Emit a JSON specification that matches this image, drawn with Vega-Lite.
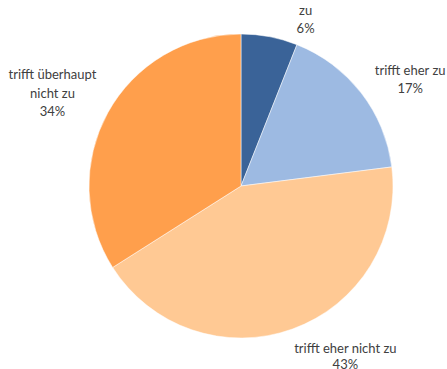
{
  "$schema": "https://vega.github.io/schema/vega-lite/v6.json",
  "width": 412,
  "height": 366,
  "autosize": {"type": "none"},
  "padding": {"left": 35, "top": 3, "right": 0, "bottom": 0},
  "background": "white",
  "view": {"stroke": null},
  "data": {
    "values": [
      {"order": 1, "cat": "trifft zu", "value": 6, "label": ["zu", "6%"]},
      {"order": 2, "cat": "trifft eher zu", "value": 17, "label": ["trifft eher zu", "17%"]},
      {"order": 3, "cat": "trifft eher nicht zu", "value": 43, "label": ["trifft eher nicht zu", "43%"]},
      {"order": 4, "cat": "trifft überhaupt nicht zu", "value": 34, "label": ["trifft überhaupt", "nicht zu", "34%"]}
    ]
  },
  "encoding": {
    "theta": {"field": "value", "type": "quantitative", "stack": true},
    "order": {"field": "order", "type": "quantitative"}
  },
  "layer": [
    {
      "mark": {"type": "arc", "outerRadius": 152, "stroke": "white", "strokeWidth": 0.5},
      "encoding": {
        "color": {
          "field": "cat",
          "type": "nominal",
          "scale": {
            "domain": ["trifft zu", "trifft eher zu", "trifft eher nicht zu", "trifft überhaupt nicht zu"],
            "range": ["#3A6398", "#9DBAE2", "#FFC994", "#FF9F4C"]
          },
          "legend": null
        }
      }
    },
    {
      "mark": {"type": "text", "radius": 190, "dx": 29, "dy": 12, "font": "Lato", "fontSize": 13, "lineHeight": 18, "color": "#404040", "align": "center", "baseline": "middle"},
      "encoding": {"text": {"condition": {"test": "datum.order == 1", "field": "label"}, "value": ""}}
    },
    {
      "mark": {"type": "text", "radius": 190, "dx": 19, "dy": 1, "font": "Lato", "fontSize": 13, "lineHeight": 18, "color": "#404040", "align": "center", "baseline": "middle"},
      "encoding": {"text": {"condition": {"test": "datum.order == 2", "field": "label"}, "value": ""}}
    },
    {
      "mark": {"type": "text", "radius": 190, "dx": 40, "dy": -16, "font": "Lato", "fontSize": 13, "lineHeight": 16, "color": "#404040", "align": "center", "baseline": "middle"},
      "encoding": {"text": {"condition": {"test": "datum.order == 3", "field": "label"}, "value": ""}}
    },
    {
      "mark": {"type": "text", "radius": 190, "dx": -22, "dy": -19, "font": "Lato", "fontSize": 13, "lineHeight": 18.5, "color": "#404040", "align": "center", "baseline": "middle"},
      "encoding": {"text": {"condition": {"test": "datum.order == 4", "field": "label"}, "value": ""}}
    }
  ]
}
